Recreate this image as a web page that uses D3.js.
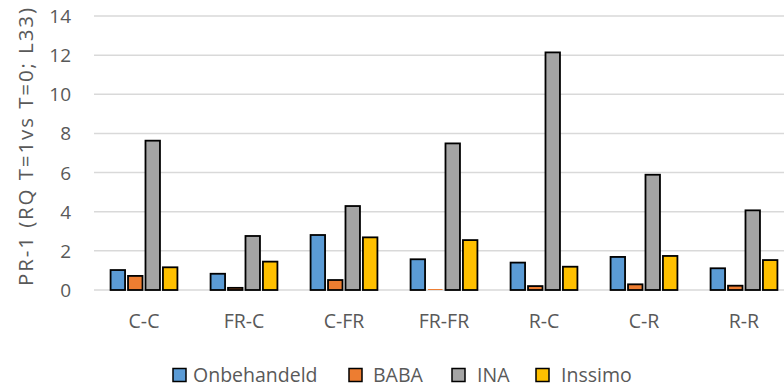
<!DOCTYPE html>
<html><head><meta charset="utf-8">
<script src="https://cdn.jsdelivr.net/npm/d3@7"></script>
<style>body{margin:0;background:#fff}svg{display:block}text{font-family:"Open Sans",sans-serif;fill:#595959}</style>
</head><body><svg id="c" width="784" height="387"></svg>
<script>
const categories = ["C-C","FR-C","C-FR","FR-FR","R-C","C-R","R-R"];
const seriesNames = ["Onbehandeld","BABA","INA","Inssimo"];
const onbehandeld = [1.02,0.83,2.81,1.57,1.40,1.69,1.11];
const baba = [0.72,0.11,0.51,0.05,0.20,0.29,0.22];
const ina = [7.63,2.76,4.29,7.49,12.14,5.89,4.07];
const inssimo = [1.16,1.45,2.69,2.55,1.19,1.74,1.53];
const colors = ["#5b9bd5","#ed7d31","#a5a5a5","#ffc000"];
const yTicks = [0,2,4,6,8,10,12,14];
const yTitle = "PR-1 (RQ T=1vs T=0; L33)";

const values = [onbehandeld, baba, ina, inssimo];
const svg = d3.select("#c");
const x = d3.scaleBand().domain(categories).range([94,794]);
const y = d3.scaleLinear().domain([0,14]).range([290,16]);
const inner = d3.scaleBand().domain(seriesNames).range([0, x.bandwidth()]).paddingOuter(0.95).paddingInner(0.17);

svg.append("g").selectAll("line").data(yTicks).join("line")
  .attr("x1",94).attr("x2",784).attr("y1",d=>y(d)).attr("y2",d=>y(d))
  .attr("stroke","#d9d9d9").attr("stroke-width",1.5);

svg.append("g").selectAll("text").data(yTicks).join("text")
  .attr("x",71).attr("y",d=>y(d)+7).attr("text-anchor","end").attr("font-size",19).text(d=>d);

svg.append("text").attr("transform","translate(33,147) rotate(-90)").attr("text-anchor","middle")
  .attr("font-size",20.5).attr("textLength",278).attr("lengthAdjust","spacing").text(yTitle);

const g = svg.append("g");
seriesNames.forEach((s,si)=>{
  g.append("g").selectAll("rect").data(categories).join("rect")
   .attr("x",c=>x(c)+inner(s)).attr("width",inner.bandwidth())
   .attr("y",(c,i)=>y(values[si][i])).attr("height",(c,i)=>y(0)-y(values[si][i]))
   .attr("fill",colors[si]).attr("stroke","#000").attr("stroke-width",1.8)
   .attr("stroke-opacity",(c,i)=>values[si][i]<0.08?0:1);
});

svg.append("g").selectAll("text").data(categories).join("text")
  .attr("x",c=>x(c)+x.bandwidth()/2).attr("y",328).attr("text-anchor","middle").attr("font-size",19.5).text(c=>c);

const legSq = [173, 349, 452, 536];
const legTx = [193, 373, 477, 561];
const lg = svg.append("g");
seriesNames.forEach((s,i)=>{
  lg.append("rect").attr("x",legSq[i]).attr("y",368.5).attr("width",13).attr("height",13)
    .attr("fill",colors[i]).attr("stroke","#000").attr("stroke-width",1.5);
  lg.append("text").attr("x",legTx[i]).attr("y",382).attr("font-size",19.5).text(s);
});
</script></body></html>
